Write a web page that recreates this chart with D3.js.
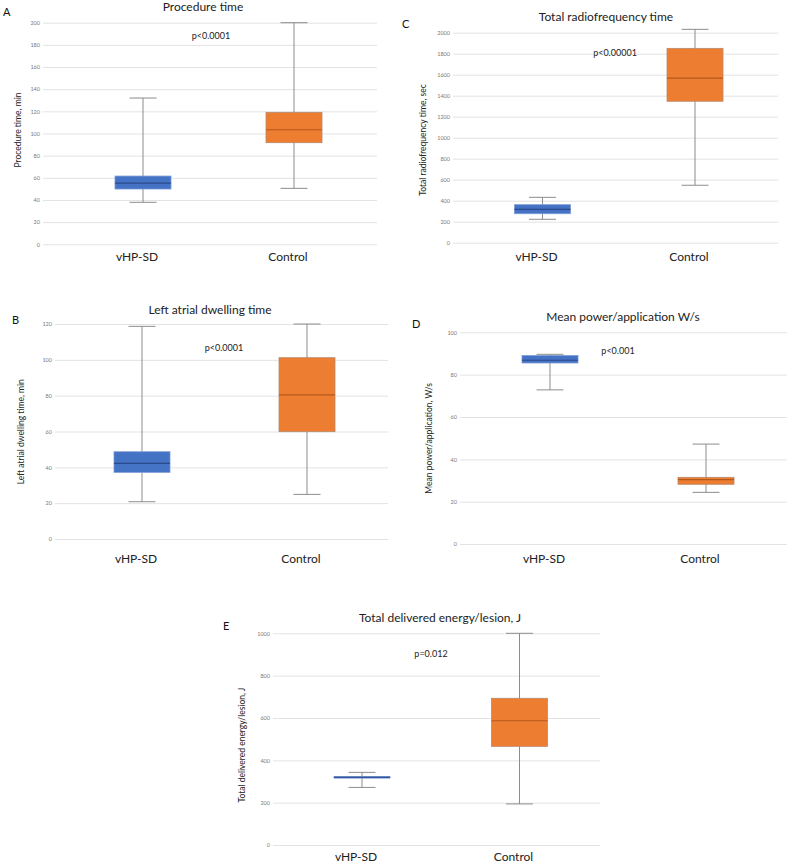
<!DOCTYPE html>
<html><head><meta charset="utf-8">
<script src="https://cdn.jsdelivr.net/npm/d3@7"></script>
<style>
html,body{margin:0;padding:0;background:#fff;}
svg{display:block;font-family:Lato,"Open Sans",sans-serif;}
</style></head>
<body><svg id="chart" width="787" height="864"></svg>
<script>
// ---- data ----
const categories = ["vHP-SD", "Control"];
// [min, q1, median, q3, max]
const procedureTime = [[37.9, 49.9, 55.3, 61.6, 132], [50.5, 91.7, 103.4, 119.1, 200]];
const radiofrequencyTime = [[223, 276, 318, 362, 432], [547, 1347, 1568, 1851, 2032]];
const dwellingTime = [[20.8, 37.2, 42.2, 48.7, 118.7], [24.9, 59.9, 80.4, 101.2, 120]];
const meanPower = [[72.8, 85.5, 86.8, 89, 89.6], [24.4, 28.2, 30.4, 31.5, 47.2]];
const deliveredEnergy = [[272, 316, 320, 324, 343], [194, 466, 587, 693, 1000]];
const ticksA = [0, 20, 40, 60, 80, 100, 120, 140, 160, 180, 200];
const ticksC = [0, 200, 400, 600, 800, 1000, 1200, 1400, 1600, 1800, 2000];
const ticksB = [0, 20, 40, 60, 80, 100, 120];
const ticksD = [0, 20, 40, 60, 80, 100];
const ticksE = [0, 200, 400, 600, 800, 1000];
const titles = ["Procedure time", "Total radiofrequency time", "Left atrial dwelling time", "Mean power/application W/s", "Total delivered energy/lesion, J"];
const yLabels = ["Procedure time, min", "Total radiofrequency time, sec", "Left atrial dwelling time, min", "Mean power/application, W/s", "Total delivered energy/lesion, J"];
const pValues = ["p<0.0001", "p<0.00001", "p<0.0001", "p<0.001", "p=0.012"];
const letters = ["A", "C", "B", "D", "E"];

// ---- layout ----
const panels = [
  {data: procedureTime, ticks: ticksA, gx: [43, 377], gy: [244.3, 22.7], cx: [143, 294], titleX: 203, titleY: 11,
   letterX: 3, letterY: 16, ylx: 18, yly: 130, px: 211, py: 39, catY: 261},
  {data: radiofrequencyTime, ticks: ticksC, gx: [453, 778], gy: [242.7, 32.7], cx: [542.5, 695], titleX: 606, titleY: 21,
   letterX: 402, letterY: 28, ylx: 423, yly: 140, px: 615, py: 55.5, catY: 261},
  {data: dwellingTime, ticks: ticksB, gx: [55, 388], gy: [539, 324], cx: [142, 307], titleX: 210, titleY: 314,
   letterX: 12, letterY: 324, ylx: 20.7, yly: 431.7, px: 224, py: 351, catY: 563},
  {data: meanPower, ticks: ticksD, gx: [460, 787], gy: [544, 332.3], cx: [550, 706], titleX: 623, titleY: 321,
   letterX: 412, letterY: 328, ylx: 429, yly: 438.3, px: 618, py: 354, catY: 563},
  {data: deliveredEnergy, ticks: ticksE, gx: [273, 600], gy: [845, 633.3], cx: [362, 519.5], titleX: 440, titleY: 622,
   letterX: 223, letterY: 630, ylx: 241.7, yly: 745, px: 431, py: 657, catY: 861}
];
const fills = ["#4472C4", "#ED7D31"];
const medianColors = ["#2A4A8C", "#B4581E"];
const boxStroke = ["#7b9ad6", "#b98a6a"];

const svg = d3.select("#chart");

panels.forEach((p, i) => {
  const g = svg.append("g");
  const maxTick = p.ticks[p.ticks.length - 1];
  const y = d3.scaleLinear().domain([0, maxTick]).range(p.gy);
  const x = d3.scalePoint().domain(categories).range(p.cx);
  const boxW = 56, capW = 27;

  const axis = d3.axisLeft(y).tickValues(p.ticks).tickFormat(d3.format("d"))
    .tickSize(-(p.gx[1] - p.gx[0])).tickPadding(3);
  const ag = g.append("g").attr("transform", `translate(${p.gx[0]},0)`).call(axis);
  ag.select(".domain").remove();
  ag.selectAll(".tick line").attr("stroke", "#e3e3e3").attr("stroke-width", 1);
  ag.selectAll(".tick text").attr("fill", "#7a7a7a").style("font-size", "5.5px").style("font-family", "Lato, sans-serif");

  categories.forEach((c, k) => {
    const d = p.data[k];
    const cx = x(c);
    g.append("line").attr("x1", cx).attr("x2", cx).attr("y1", y(d[0])).attr("y2", y(d[4]))
      .attr("stroke", "#8c8c8c").attr("stroke-width", 1);
    [d[0], d[4]].forEach(v => {
      g.append("line").attr("x1", cx - capW / 2).attr("x2", cx + capW / 2).attr("y1", y(v)).attr("y2", y(v))
        .attr("stroke", "#8c8c8c").attr("stroke-width", 1);
    });
    g.append("rect").attr("x", cx - boxW / 2).attr("width", boxW)
      .attr("y", y(d[3])).attr("height", Math.max(1, y(d[1]) - y(d[3])))
      .attr("fill", fills[k]).attr("stroke", boxStroke[k]).attr("stroke-width", 0.8);
    g.append("line").attr("x1", cx - boxW / 2).attr("x2", cx + boxW / 2).attr("y1", y(d[2])).attr("y2", y(d[2]))
      .attr("stroke", medianColors[k]).attr("stroke-width", 1.2);
    g.append("text").attr("x", cx - 6).attr("y", p.catY).attr("text-anchor", "middle")
      .style("font-size", "12px").attr("fill", "#222").text(c);
  });

  g.append("text").attr("x", p.titleX).attr("y", p.titleY).attr("text-anchor", "middle")
    .style("font-size", "12px").attr("fill", "#222").text(titles[i]);
  g.append("text").attr("x", p.letterX).attr("y", p.letterY)
    .style("font-size", "11px").attr("fill", "#111").text(letters[i]);
  g.append("text").attr("transform", `translate(${p.ylx},${p.yly}) rotate(-90)`).attr("text-anchor", "middle")
    .attr("dy", "0.35em").style("font-size", "8.5px").attr("fill", "#222").text(yLabels[i]);
  g.append("text").attr("x", p.px).attr("y", p.py).attr("text-anchor", "middle")
    .style("font-size", "9px").attr("fill", "#222").text(pValues[i]);
});
</script>
</body></html>
